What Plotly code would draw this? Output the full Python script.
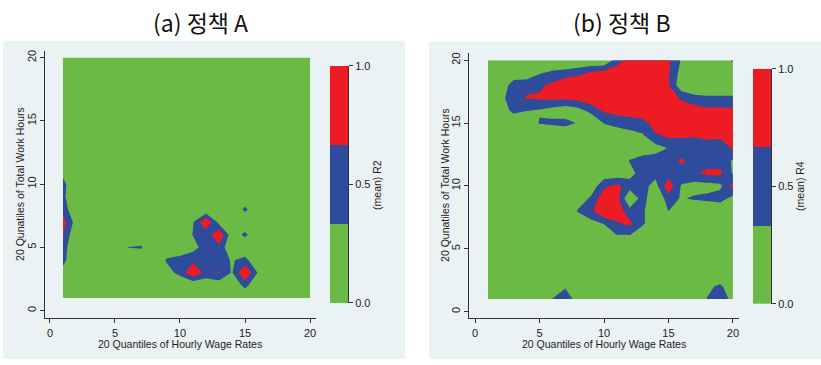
import plotly.graph_objects as go

W, H = 821, 365
GREEN = "#6BBA45"
BLUE = "#2E4B9C"
RED = "#ED1C24"
PANEL_BG = "#EAF2F3"
FONT = "Liberation Sans, Arial, sans-serif"
KFONT = "Noto Sans CJK KR, Noto Sans, sans-serif"

# ---------------- data ----------------
wage_quantiles = list(range(1, 21))    # x grid (20 quantiles of hourly wage rates)
hour_quantiles = list(range(1, 21))    # y grid (20 quantiles of total work hours)
x_ticks = [0, 5, 10, 15, 20]
y_ticks = [0, 5, 10, 15, 20]
legend_bounds = [0.0, 1/3, 2/3, 1.0]
legend_ticks = [0.0, 0.5, 1.0]
legend_ticktext = ["0.0", "0.5", "1.0"]

# (mean) R2 for policy A; rows listed from y=20 (top) down to y=1
r2_rows_top_down = [
    [0]*20,  # 20
    [0]*20,  # 19
    [0]*20,  # 18
    [0]*20,  # 17
    [0]*20,  # 16
    [0]*20,  # 15
    [0]*20,  # 14
    [0]*20,  # 13
    [0]*20,  # 12
    [0.2, 0, 0, 0, 0, 0, 0, 0, 0, 0, 0, 0, 0, 0, 0, 0, 0, 0, 0, 0],  # 11
    [0.45, 0, 0, 0, 0, 0, 0, 0, 0, 0, 0, 0, 0, 0, 0, 0, 0, 0, 0, 0],  # 10
    [0.42, 0, 0, 0, 0, 0, 0, 0, 0, 0, 0, 0, 0, 0, 0, 0, 0, 0, 0, 0],  # 9
    [0.55, 0, 0, 0, 0, 0, 0, 0, 0, 0, 0, 0, 0, 0, 0.42, 0, 0, 0, 0, 0],  # 8
    [0.8, 0.2, 0, 0, 0, 0, 0, 0, 0, 0, 0.3, 1.0, 0.2, 0, 0, 0, 0, 0, 0, 0],  # 7
    [0.7, 0, 0, 0, 0, 0, 0, 0, 0, 0, 0.35, 0.45, 1.0, 0.1, 0.42, 0, 0, 0, 0, 0],  # 6
    [0.5, 0, 0, 0, 0, 0.34, 0.38, 0, 0, 0, 0.2, 0.5, 0.55, 0.05, 0, 0, 0, 0, 0, 0],  # 5
    [0.45, 0, 0, 0, 0, 0, 0, 0, 0.38, 0.5, 0.58, 0.55, 0.5, 0.3, 0.45, 0, 0, 0, 0, 0],  # 4
    [0.2, 0, 0, 0, 0, 0, 0, 0, 0.2, 0.44, 1.0, 0.52, 0.7, 0.3, 1.0, 0.3, 0, 0, 0, 0],  # 3
    [0, 0, 0, 0, 0, 0, 0, 0, 0, 0, 0, 0.1, 0.1, 0, 0.45, 0, 0, 0, 0, 0],  # 2
    [0]*20,  # 1
]

# (mean) R4 for policy B; rows listed from y=20 (top) down to y=1
r4_rows_top_down = [
    [0, 0, 0, 0, 0, 0, 0, 0, 0, 0, 0.5, 0.8, 1, 1, 0.75, 0.3, 0, 0, 0, 0.4],  # 20
    [0, 0, 0.1, 0.1, 0.3, 0.4, 0.45, 0.55, 0.72, 0.8, 0.9, 1, 1, 1, 0.7, 0.2, 0, 0, 0, 0],  # 19
    [0, 0.1, 0.5, 0.55, 0.6, 0.75, 1, 1, 1, 1, 1, 1, 1, 1, 0.7, 0.1, 0, 0, 0, 0],  # 18
    [0, 0.25, 0.5, 0.7, 0.72, 0.75, 0.75, 0.8, 0.9, 1, 1, 1, 1, 1, 1, 0.6, 0.45, 0.4, 0.4, 0.4],  # 17
    [0, 0.1, 0.45, 0.35, 0.3, 0.2, 0.1, 0.2, 0.45, 0.72, 0.8, 0.85, 1, 1, 1, 0.9, 0.85, 0.75, 0.75, 0.75],  # 16
    [0, 0, 0, 0, 0.36, 0.4, 0.45, 0.3, 0, 0.35, 0.45, 0.5, 0.5, 0.9, 1, 1, 1, 1, 1, 1],  # 15
    [0, 0, 0, 0, 0, 0, 0, 0, 0, 0, 0.1, 0.2, 0.3, 0.6, 0.75, 0.72, 0.7, 0.75, 0.75, 0.9],  # 14
    [0, 0, 0, 0, 0, 0, 0, 0, 0, 0, 0, 0, 0.1, 0.2, 0.35, 0.45, 0.45, 0.5, 0.45, 0.7],  # 13
    [0, 0, 0, 0, 0, 0, 0, 0, 0, 0, 0, 0.36, 0.5, 0.5, 0.5, 0.72, 0.55, 0.5, 0.5, 0.3],  # 12
    [0, 0, 0, 0, 0, 0, 0, 0, 0, 0.1, 0.1, 0.2, 0.5, 0.45, 0.5, 0.55, 0.6, 0.75, 0.75, 0.3],  # 11
    [0, 0, 0, 0, 0, 0, 0, 0, 0.1, 0.6, 0.75, 0.5, 0.45, 0.2, 0.9, 0.3, 0.2, 0.2, 0.25, 0.8],  # 10
    [0, 0, 0, 0, 0, 0, 0, 0.1, 0.4, 0.9, 0.8, 0, 0.5, 0, 0.5, 0.3, 0.38, 0.42, 0.5, 0.2],  # 9
    [0, 0, 0, 0, 0, 0, 0, 0.38, 0.6, 1, 0.9, 0.45, 0.4, 0, 0.34, 0, 0, 0, 0, 0],  # 8
    [0, 0, 0, 0, 0, 0, 0, 0, 0.2, 0.35, 0.62, 0.75, 0.4, 0, 0, 0, 0, 0, 0, 0],  # 7
    [0, 0, 0, 0, 0, 0, 0, 0, 0, 0, 0.3, 0.3, 0, 0, 0, 0, 0, 0, 0, 0],  # 6
    [0]*20,  # 5
    [0]*20,  # 4
    [0]*20,  # 3
    [0, 0, 0, 0, 0, 0, 0.3, 0, 0, 0, 0, 0, 0, 0, 0, 0, 0, 0.25, 0.4, 0.1],  # 2
    [0, 0, 0, 0, 0, 0.34, 0.5, 0.2, 0, 0, 0, 0, 0, 0, 0, 0, 0, 0.35, 0.6, 0.2],  # 1
]

r2_grid = r2_rows_top_down[::-1]
r4_grid = r4_rows_top_down[::-1]

# ---------------- helpers ----------------
def px(v):
    return v / W

def py(v):
    return 1 - v / H

cscale = [[0, GREEN], [0.5, BLUE], [1, RED]]
lo, m1, m2, hi = legend_bounds
band_centers = [(lo + m1) / 2, (m1 + m2) / 2, (m2 + hi) / 2]

fig = go.Figure()

def add_panel(z, xa, ya, cxa, cya):
    fig.add_trace(go.Contour(
        x=wage_quantiles, y=hour_quantiles, z=z,
        xaxis=xa, yaxis=ya,
        contours=dict(start=m1, end=m2, size=m2 - m1, coloring="fill", showlines=False),
        line=dict(width=0, smoothing=0),
        colorscale=cscale, showscale=False, hoverinfo="skip",
    ))
    fig.add_trace(go.Heatmap(
        x=[0], y=band_centers, z=[[c] for c in band_centers],
        xaxis=cxa, yaxis=cya,
        colorscale=cscale, zmin=band_centers[0], zmax=band_centers[-1],
        showscale=False, hoverinfo="skip",
    ))

add_panel(r2_grid, "x", "y", "x2", "y2")
add_panel(r4_grid, "x3", "y3", "x4", "y4")

tickfont = dict(family=FONT, size=11, color="#222222")
axcommon = dict(showline=True, linecolor="#333333", linewidth=1, ticks="outside",
                ticklen=4, tickcolor="#333333", tickwidth=1, zeroline=False,
                tickfont=tickfont)

layout = dict(
    width=W, height=H, margin=dict(l=0, r=0, t=0, b=0),
    paper_bgcolor="white", plot_bgcolor="white", showlegend=False,
    # panel A
    xaxis=dict(domain=[px(45), px(316)], range=[-0.38, 20.46], anchor="y",
               tickvals=x_ticks, showgrid=False, ticklabelstandoff=0, **axcommon),
    yaxis=dict(domain=[py(323), py(47)], range=[-0.61, 20.48], anchor="x",
               tickvals=y_ticks, tickangle=-90, showgrid=True,
               gridcolor=PANEL_BG, gridwidth=1, **axcommon),
    xaxis2=dict(domain=[px(330), px(348)], range=[-0.5, 0.5], anchor="y2",
                visible=False),
    yaxis2=dict(domain=[py(307), py(62)], range=[0, 1], anchor="x2", side="right",
                tickvals=legend_ticks, ticktext=legend_ticktext, showgrid=False,
                **axcommon),
    # panel B
    xaxis3=dict(domain=[px(469), px(739)], range=[-0.47, 20.47], anchor="y3",
                tickvals=x_ticks, showgrid=False, ticklabelstandoff=0, **axcommon),
    yaxis3=dict(domain=[py(323), py(49)], range=[-0.54, 20.54], anchor="x3",
                tickvals=y_ticks, tickangle=-90, showgrid=True,
                gridcolor=PANEL_BG, gridwidth=1, **axcommon),
    xaxis4=dict(domain=[px(753), px(771)], range=[-0.5, 0.5], anchor="y4",
                visible=False),
    yaxis4=dict(domain=[py(308), py(65)], range=[0, 1], anchor="x4", side="right",
                tickvals=legend_ticks, ticktext=legend_ticktext, showgrid=False,
                **axcommon),
)
fig.update_layout(**layout)

# panel backgrounds
for x0, x1, y0 in [(3, 405, 36), (429, 821, 37)]:
    fig.add_shape(type="rect", xref="paper", yref="paper", layer="below",
                  x0=px(x0), x1=px(x1), y0=py(365), y1=py(y0),
                  fillcolor=PANEL_BG, line=dict(width=0))

def ann(text, x, y, size=11, angle=0, family=FONT, color="#222222"):
    fig.add_annotation(text=text, x=px(x), y=py(y), xref="paper", yref="paper",
                       showarrow=False, textangle=angle, xanchor="center",
                       yanchor="middle", font=dict(family=family, size=size, color=color))

ann("(a) 정책 A", 200, 17, size=23, family=KFONT, color="#111111")
ann("(b) 정책 B", 622, 17, size=23, family=KFONT, color="#111111")
ann("20 Quantiles of Hourly Wage Rates", 180, 349, size=10.5)
ann("20 Quantiles of Hourly Wage Rates", 604, 350, size=10.5)
ann("20 Qunatiles of Total Work Hours", 20, 184, size=10.5, angle=-90)
ann("20 Qunatiles of Total Work Hours", 445, 185, size=10.5, angle=-90)
ann("(mean) R2", 377, 185, size=10.5, angle=-90)
ann("(mean) R4", 800, 186, size=10.5, angle=-90)

fig.write_html("out.html")
